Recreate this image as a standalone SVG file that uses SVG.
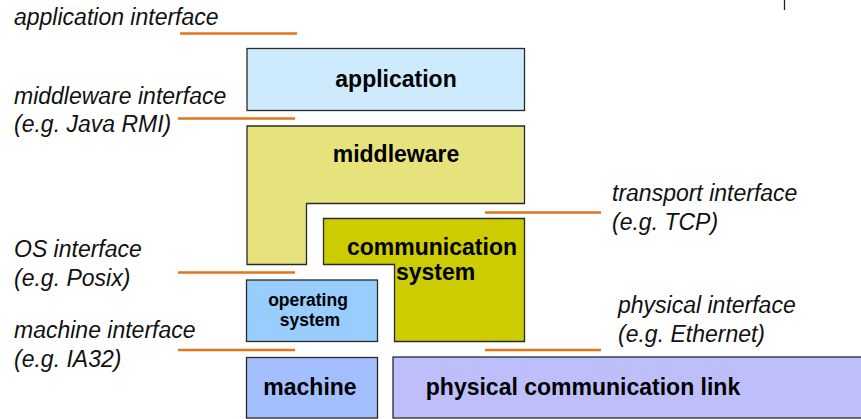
<svg xmlns="http://www.w3.org/2000/svg" width="861" height="419" viewBox="0 0 861 419">
  <style>
    .box { stroke: #2a2a2a; stroke-width: 1.3; }
    .lbl { font-family: "Liberation Sans", Arial, sans-serif; font-weight: bold; font-size: 23px; fill: #000; }
    .small { font-size: 17.5px; }
    .note { font-family: "Liberation Sans", Arial, sans-serif; font-style: italic; font-size: 23px; fill: #111; }
    .iface { stroke: #e2761a; stroke-width: 2.6; fill: none; }
  </style>
  <rect width="861" height="419" fill="#ffffff"/>

  <!-- layer blocks -->
  <g id="application">
    <rect class="box" x="247" y="48.5" width="277.5" height="62" fill="#cdebfc"/>
    <text class="lbl" x="396" y="87" text-anchor="middle">application</text>
  </g>
  <g id="middleware">
    <path class="box" d="M247,126 H524.5 V203.5 H306.5 V264.5 H247 Z" fill="#e6e37c"/>
    <text class="lbl" x="396" y="162" text-anchor="middle">middleware</text>
  </g>
  <g id="communication-system">
    <path class="box" d="M323.5,218.5 H524.5 V341.5 H394.5 V264.5 H323.5 Z" fill="#cccc00"/>
    <text class="lbl" x="432" y="255" text-anchor="middle">communication</text>
    <text class="lbl" x="396" y="280">system</text>
  </g>
  <g id="operating-system">
    <rect class="box" x="246.5" y="280" width="131" height="61.5" fill="#99ccff"/>
    <text class="lbl small" x="308" y="306" text-anchor="middle">operating</text>
    <text class="lbl small" x="310" y="326" text-anchor="middle">system</text>
  </g>
  <g id="machine">
    <rect class="box" x="246.5" y="357.5" width="131" height="60.5" fill="#a3bfff"/>
    <text class="lbl" x="310" y="395" text-anchor="middle">machine</text>
  </g>
  <g id="physical-link">
    <rect class="box" x="393" y="357" width="475" height="61" fill="#bebefa"/>
    <text class="lbl" x="583" y="395" text-anchor="middle">physical communication link</text>
  </g>

  <!-- interface markers -->
  <g id="interfaces">
    <line class="iface" x1="180" y1="33.5" x2="297" y2="33.5"/>
    <line class="iface" x1="178" y1="118.5" x2="295" y2="118.5"/>
    <line class="iface" x1="178" y1="272.5" x2="295" y2="272.5"/>
    <line class="iface" x1="178" y1="350" x2="295" y2="350"/>
    <line class="iface" x1="485" y1="212.5" x2="601" y2="212.5"/>
    <line class="iface" x1="485" y1="350" x2="601" y2="350"/>
    <line x1="784.5" y1="0" x2="784.5" y2="10" stroke="#222" stroke-width="1.3"/>
  </g>

  <!-- interface descriptions -->
  <g id="notes">
    <text class="note" x="14" y="25">application interface</text>
    <text class="note" x="14" y="104">middleware interface</text>
    <text class="note" x="14" y="132">(e.g. Java RMI)</text>
    <text class="note" x="14" y="257">OS interface</text>
    <text class="note" x="14" y="286">(e.g. Posix)</text>
    <text class="note" x="14" y="338">machine interface</text>
    <text class="note" x="14" y="367">(e.g. IA32)</text>
    <text class="note" x="612" y="201">transport interface</text>
    <text class="note" x="612" y="230">(e.g. TCP)</text>
    <text class="note" x="618" y="313">physical interface</text>
    <text class="note" x="618" y="342">(e.g. Ethernet)</text>
  </g>
</svg>
